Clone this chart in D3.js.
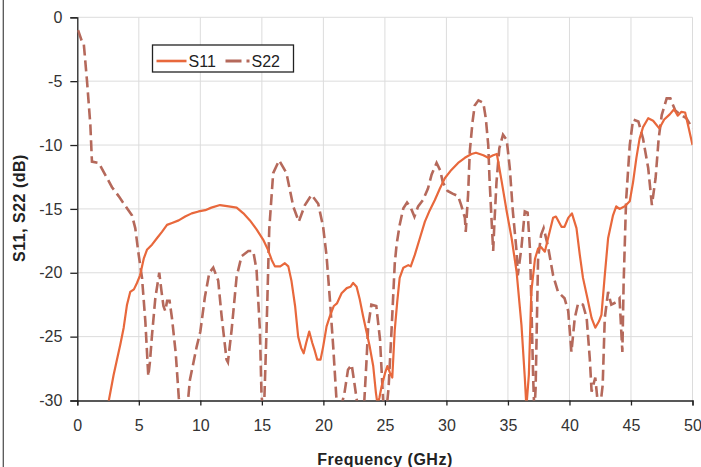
<!DOCTYPE html>
<meta charset="utf-8">

<!-- Load d3.js -->
<script src="https://d3js.org/d3.v7.min.js"></script>

<style>
  body { margin: 0; background: #fff; }
</style>

<!-- Create a div where the graph will take place -->
<div id="my_dataviz"></div>

<script>

// S11 trace (frequency in GHz, level in dB)
var s11Freq = [2.4, 2.6, 2.95, 3.2, 3.5, 3.77, 4.04, 4.3, 4.6, 4.85, 5.1, 5.4, 5.66, 6.07, 6.47, 6.88, 7.29, 7.7,
  8.24, 8.77, 9.3, 9.86, 10.4, 10.9, 11.6, 12.3, 12.95, 13.5, 14.03, 14.57, 15.1, 15.5, 15.8, 16.06, 16.5,
  16.87, 17.15, 17.4, 17.7, 17.95, 18.2, 18.4, 18.6, 18.85, 19.1, 19.3, 19.5, 19.77, 19.98, 20.26, 20.53,
  20.85, 21.1, 21.48, 21.9, 22.2, 22.42, 22.7, 22.96, 23.23, 23.5, 23.77, 24.05, 24.27, 24.4, 24.55, 24.73,
  25.0, 25.2, 25.4, 25.6, 25.8, 26.0, 26.2, 26.5, 26.9, 27.1, 27.43, 27.84, 28.25, 28.65, 29.06, 29.47,
  29.87, 30.4, 30.95, 31.5, 32.04, 32.4, 33.0, 33.4, 33.8, 34.1, 34.5, 34.9, 35.3, 35.7, 36.1, 36.37,
  36.5, 36.7, 36.9, 37.2, 37.45, 37.7, 38.0, 38.26, 38.67, 38.9, 39.35, 39.6, 39.9, 40.2, 40.57, 40.84,
  41.1, 41.46, 41.8, 42.1, 42.4, 42.6, 42.87, 43.14, 43.54, 43.8, 44.07, 44.5, 44.9, 45.17, 45.44, 45.7,
  45.98, 46.4, 46.8, 47.3, 47.7, 48.15, 48.5, 48.8, 49.1, 49.4, 49.7, 50.0];
var s11Db = [-31, -29.8, -28.0, -26.9, -25.6, -24.3, -22.5, -21.5, -21.3, -20.8, -20.2, -18.9, -18.2, -17.8,
  -17.3, -16.8, -16.25, -16.1, -15.9, -15.6, -15.35, -15.2, -15.1, -14.9, -14.7, -14.8, -14.9, -15.35,
  -15.9, -16.6, -17.4, -18.2, -19.0, -19.5, -19.5, -19.25, -19.5, -20.6, -22.6, -25.0, -25.9, -26.3, -25.5,
  -24.6, -25.5, -26.1, -26.8, -26.8, -25.8, -24.2, -23.4, -22.6, -22.4, -21.6, -21.2, -21.1, -20.8, -21.1,
  -22.1, -23.4, -24.6, -25.8, -27.3, -29.4, -30.3, -29.8, -28.9, -27.9, -27.3, -27.8, -28.2, -24.5, -22.3,
  -20.4, -19.6, -19.4, -19.5, -18.6, -17.3, -16.0, -15.1, -14.3, -13.4, -12.6, -11.95, -11.4, -11.0, -10.7,
  -10.6, -10.8, -11.0, -10.8, -10.7, -12.9, -15.2, -17.3, -19.9, -24.1, -28.2, -30.5, -28.0, -21.5, -18.9,
  -18.1, -18.0, -18.35, -17.3, -15.7, -15.6, -16.4, -16.4, -15.7, -15.35, -16.5, -18.6, -20.4, -22.0, -23.55,
  -24.3, -23.8, -23.3, -20.2, -17.3, -15.5, -14.8, -15.0, -14.8, -14.4, -12.9, -11.0, -9.5, -8.6, -7.9,
  -8.1, -8.7, -8.0, -7.6, -7.2, -7.7, -7.4, -7.45, -8.7, -10.0];

// S22 trace
var s22Freq = [0.06, 0.38, 0.52, 0.79, 1.06, 1.19, 1.74, 2.14, 2.82, 3.36, 4.04, 4.44, 4.71, 4.99, 5.26, 5.53,
  5.77, 5.9, 6.07, 6.34, 6.66, 6.85, 7.0, 7.15, 7.3, 7.5, 7.7, 8.0, 8.25, 8.4, 8.9, 9.15, 9.7, 10.0, 10.37,
  10.73, 11.05, 11.45, 11.73, 12.13, 12.24, 12.54, 12.95, 13.35, 13.9, 14.3, 14.57, 14.84, 14.97, 15.1,
  15.2, 15.38, 15.6, 15.92, 16.4, 17.0, 17.55, 18.0, 18.5, 19.04, 19.58, 19.98, 20.26, 20.53, 20.8, 21.07,
  21.3, 21.7, 22.0, 22.3, 22.5, 22.75, 23.3, 23.5, 23.64, 23.9, 24.3, 24.6, 24.86, 25.1, 25.3, 25.54, 25.8,
  25.95, 26.2, 26.5, 26.8, 27.1, 27.4, 27.7, 28.1, 28.5, 28.8, 29.2, 29.5, 29.7, 30.1, 30.5, 30.95, 31.2,
  31.5, 31.57, 31.76, 31.9, 32.12, 32.3, 32.6, 33.0, 33.2, 33.4, 33.5, 33.66, 33.8, 33.9, 34.07, 34.3, 34.6,
  34.9, 35.15, 35.4, 35.7, 35.8, 36.1, 36.37, 36.6, 36.8, 36.9, 37.05, 37.15, 37.25, 37.45, 37.7, 37.9,
  38.25, 38.67, 39.07, 39.6, 39.9, 40.16, 40.43, 40.7, 41.1, 41.4, 41.65, 41.8, 42.1, 42.3, 42.5, 42.7,
  42.87, 43.14, 43.4, 43.8, 44.07, 44.3, 44.4, 44.6, 44.9, 45.17, 45.6, 45.98, 46.4, 46.7, 47.0, 47.25,
  47.5, 47.9, 48.2, 48.6, 49.0, 49.5, 50.0];
var s22Db = [-1.0, -1.9, -2.0, -5.0, -8.4, -11.3, -11.4, -12.1, -13.3, -14.0, -14.95, -15.5, -16.5, -18.6,
  -20.4, -23.8, -28.1, -27.0, -24.9, -22.0, -20.0, -21.5, -22.6, -23.0, -22.2, -22.2, -23.6, -26.3, -29.8,
  -31, -31, -28.4, -25.8, -24.6, -21.9, -20.0, -19.6, -20.6, -23.4, -26.8, -27.0, -24.5, -20.3, -18.7,
  -18.3, -18.3, -19.8, -24.5, -29.5, -31, -30, -24.5, -16.6, -12.2, -11.2, -12.2, -14.8, -16.0, -14.7,
  -13.9, -14.6, -16.4, -18.7, -22.1, -25.8, -30, -31, -29.5, -27.6, -27.2, -28.5, -30.2, -30.5, -27, -24.2,
  -22.5, -22.6, -25.2, -30, -31, -29, -24.5, -19.3, -17.8, -16.25, -14.95, -14.5, -14.9, -15.6, -14.8,
  -14.3, -13.4, -12.3, -11.4, -12.0, -12.9, -13.6, -13.8, -14.0, -14.7, -15.7, -16.8, -13.9, -10.5, -8.2,
  -6.9, -6.5, -6.7, -7.9, -10.0, -12.6, -15.7, -18.3, -16.1, -12.9, -10.25, -9.2, -9.6, -11.8, -15.2,
  -18.3, -20.2, -18.0, -15.2, -15.3, -18.3, -22.3, -28.2, -31, -29, -18.9, -17.0, -16.5, -17.9, -20.2,
  -21.5, -22.0, -23.0, -26.2, -23.55, -22.4, -22.5, -23.55, -26.7, -29.3, -28.2, -30.2, -30.5, -28.8,
  -23.55, -21.5, -22.5, -22.3, -22.0, -26.2, -20.9, -14.4, -10.0, -8.0, -8.15, -9.5, -11.8, -14.7, -12.6,
  -9.5, -7.65, -6.35, -6.35, -7.3, -7.6, -7.9, -8.7];

// axis ticks and labels
var xTicks = [0, 5, 10, 15, 20, 25, 30, 35, 40, 45, 50];
var yTicks = [0, -5, -10, -15, -20, -25, -30];
var seriesNames = ["S11", "S22"];

var s11Color = "#e8683c",
    s22Color = "#b5695b";

// set the dimensions and margins of the graph
var W = 701, H = 467;
var margin = {top: 17.3, right: 8.5, bottom: 66.5, left: 77.3},
    width = W - margin.left - margin.right,
    height = H - margin.top - margin.bottom;

var svg = d3.select("#my_dataviz")
            .append("svg")
            .attr("width", W)
            .attr("height", H)
            .style("font-family", "Liberation Sans, Arial, sans-serif");

// outer frame edge on the left
svg.append("line")
   .attr("x1", 3.3).attr("x2", 3.3)
   .attr("y1", 0).attr("y2", H)
   .attr("stroke", "#555").attr("stroke-width", 1.3);

var g = svg.append("g")
           .attr("transform", "translate(" + margin.left + "," + margin.top + ")");

var x = d3.scaleLinear().domain([0, 50]).range([0, width]);
var y = d3.scaleLinear().domain([-30, 0]).range([height, 0]);

// plain hyphen for negative numbers, like the original
var fmt = function(d) { return String(d); };

// grid
g.append("g")
 .selectAll("line")
 .data(xTicks.slice(1))
 .enter().append("line")
 .attr("x1", function(d) { return x(d); })
 .attr("x2", function(d) { return x(d); })
 .attr("y1", 0).attr("y2", height)
 .attr("stroke", "#dcdcdc").attr("stroke-width", 1);

g.append("g")
 .selectAll("line")
 .data(yTicks.slice(0, -1))
 .enter().append("line")
 .attr("x1", 0).attr("x2", width)
 .attr("y1", function(d) { return y(d); })
 .attr("y2", function(d) { return y(d); })
 .attr("stroke", "#dcdcdc").attr("stroke-width", 1);

// X axis
var xAxis = g.append("g")
    .attr("transform", "translate(0," + height + ")")
    .call(d3.axisBottom(x).tickValues(xTicks).tickSize(5).tickPadding(14).tickFormat(fmt));
xAxis.select(".domain").attr("stroke", "#222").attr("stroke-width", 1.3);
xAxis.selectAll(".tick line").attr("stroke", "#222").attr("stroke-width", 1.3);
xAxis.selectAll("text").attr("font-size", 16).attr("fill", "#333")
     .style("font-family", "Liberation Sans, Arial, sans-serif");

// Y axis
var yAxis = g.append("g")
    .call(d3.axisLeft(y).tickValues(yTicks).tickSize(7).tickPadding(8).tickFormat(fmt));
yAxis.select(".domain").attr("stroke", "#222").attr("stroke-width", 1.3);
yAxis.selectAll(".tick line").attr("stroke", "#222").attr("stroke-width", 1.3);
yAxis.selectAll("text").attr("font-size", 16).attr("fill", "#333")
     .style("font-family", "Liberation Sans, Arial, sans-serif");

// clip the traces to the plot area
g.append("clipPath").attr("id", "plotClip")
 .append("rect").attr("x", 0).attr("y", -2).attr("width", width).attr("height", height + 2);

var line = d3.line()
    .x(function(d) { return x(d[0]); })
    .y(function(d) { return y(d[1]); });

var s11 = s11Freq.map(function(f, i) { return [f, s11Db[i]]; });
var s22 = s22Freq.map(function(f, i) { return [f, s22Db[i]]; });

g.append("path")
 .datum(s22)
 .attr("clip-path", "url(#plotClip)")
 .attr("fill", "none")
 .attr("stroke", s22Color)
 .attr("stroke-width", 2.6)
 .attr("stroke-dasharray", "11,5")
 .attr("d", line);

g.append("path")
 .datum(s11)
 .attr("clip-path", "url(#plotClip)")
 .attr("fill", "none")
 .attr("stroke", s11Color)
 .attr("stroke-width", 2.2)
 .attr("stroke-linejoin", "round")
 .attr("d", line);

// legend
var leg = svg.append("g").attr("transform", "translate(152.5,45)");
leg.append("rect")
   .attr("width", 141).attr("height", 27)
   .attr("fill", "#fff").attr("stroke", "#222").attr("stroke-width", 1.3);
leg.append("line")
   .attr("x1", 4).attr("x2", 34).attr("y1", 16).attr("y2", 16)
   .attr("stroke", s11Color).attr("stroke-width", 2.6);
leg.append("text")
   .attr("x", 36).attr("y", 21.5)
   .attr("font-size", 16).attr("fill", "#222")
   .text(seriesNames[0]);
leg.append("line")
   .attr("x1", 73).attr("x2", 98).attr("y1", 16).attr("y2", 16)
   .attr("stroke", s22Color).attr("stroke-width", 3)
   .attr("stroke-dasharray", "16,5,3,5");
leg.append("text")
   .attr("x", 99).attr("y", 21.5)
   .attr("font-size", 16).attr("fill", "#222")
   .text(seriesNames[1]);

// axis titles
svg.append("text")
   .attr("text-anchor", "middle")
   .attr("x", 385)
   .attr("y", 465)
   .attr("font-size", 16)
   .attr("font-weight", "bold")
   .attr("letter-spacing", 0.5)
   .attr("fill", "#222")
   .text("Frequency (GHz)");

svg.append("text")
   .attr("text-anchor", "middle")
   .attr("transform", "translate(24.5,208) rotate(-90)")
   .attr("font-size", 16)
   .attr("font-weight", "bold")
   .attr("letter-spacing", 0.5)
   .attr("fill", "#222")
   .text("S11, S22 (dB)");

</script>
